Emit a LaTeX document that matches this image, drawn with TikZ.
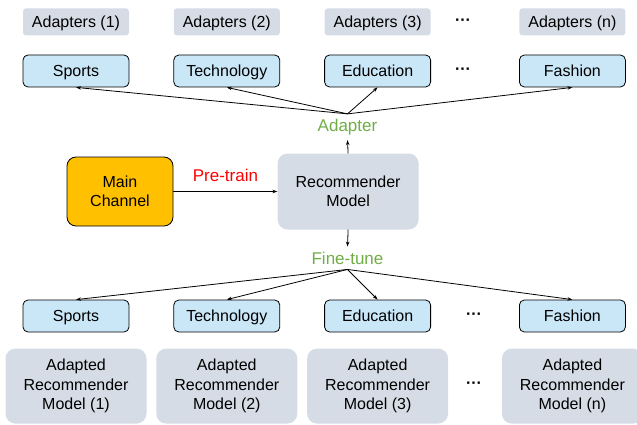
\documentclass[tikz,border=0pt]{standalone}
\usepackage{fontspec}
\setmainfont{Liberation Sans}
\usetikzlibrary{arrows.meta,positioning}

\definecolor{chanorange}{HTML}{FFC000}
\definecolor{modelgray}{HTML}{D6DCE5}
\definecolor{topicblue}{HTML}{CAE7F8}
\definecolor{tunegreen}{HTML}{70AD47}

\tikzset{
  topic/.style={draw, line width=0.8pt, fill=topicblue, rounded corners=5pt, minimum width=106pt, minimum height=32pt, inner sep=0pt, text height=14.4pt, text depth=3pt, font=\fontsize{16}{19}\selectfont},
  adapterset/.style={fill=modelgray, rounded corners=3pt, minimum width=106pt, minimum height=27pt, inner sep=0pt, text height=14.4pt, text depth=3pt, font=\fontsize{16}{19}\selectfont},
  model/.style={fill=modelgray, rounded corners=10pt, align=center, minimum width=141pt, minimum height=76pt, inner sep=0pt, font=\fontsize{16}{19}\selectfont},
  channel/.style={draw, line width=0.8pt, fill=chanorange, rounded corners=9pt, align=center, minimum width=106pt, minimum height=69pt, inner sep=0pt, font=\fontsize{16}{19}\selectfont},
  adapted/.style={model, minimum height=75pt, font=\fontsize{16}{19.5}\selectfont},
  stagelabel/.style={inner sep=5pt, font=\fontsize{17}{20}\selectfont},
  more/.style={inner sep=0pt, font=\bfseries\fontsize{16}{19}\selectfont},
  link/.style={-{Stealth[length=5pt,width=3.5pt]}, line width=0.8pt}
}

\begin{document}
\begin{tikzpicture}[x=1pt, y=-1pt]
        \useasboundingbox (0,0) rectangle (637,425);

        \node[topic] (sportsA) at (76,71) {Sports};
        \node[topic] (techA) [right=44pt of sportsA] {Technology};
        \node[topic] (eduA) [right=44pt of techA] {Education};
        \node[topic] (fashA) [right=88pt of eduA] {Fashion};
        \node[more] (moretopA) at (463,71) {···};

        \node[adapterset] (setA) [above=19pt of sportsA] {Adapters (1)};
        \node[adapterset] (setB) [above=19pt of techA] {Adapters (2)};
        \node[adapterset] (setC) [above=19pt of eduA] {Adapters (3)};
        \node[adapterset] (setN) [above=19pt of fashA] {Adapters (n)};
        \node[more] (moreset) at (463,22) {···};

        \node[channel] (main) at (120,191.5) {Main\\Channel};
        \node[model] (rec) [right=104pt of main] {Recommender\\Model};
        \draw[link] (main) -- node[above=6pt, text=red, font=\fontsize{17}{20}\selectfont] {Pre-train} (rec);

        \node[stagelabel, text=tunegreen] (adapter) at (347.5,127) {Adapter};
        \draw[link] (rec.north) -- (adapter.south);
        \foreach \t in {sportsA,techA,eduA,fashA}
          \draw[link] (adapter.north) -- (\t.south);

        \node[stagelabel, text=tunegreen] (finetune) at (347.5,258) {Fine-tune};
        \draw[link] (rec.south) -- (finetune.north);

        \node[topic] (sportsB) at (76,316) {Sports};
        \node[topic] (techB) [right=44pt of sportsB] {Technology};
        \node[topic] (eduB) [right=44pt of techB] {Education};
        \node[topic] (fashB) [right=88pt of eduB] {Fashion};
        \node[more] (moretopB) at (474,316) {···};
        \foreach \t in {sportsB,techB,eduB,fashB}
          \draw[link] (finetune.south) -- (\t.north);

        \node[adapted] (modelA) [below=16pt of sportsB] {Adapted\\Recommender\\Model (1)};
        \node[adapted] (modelB) [below=16pt of techB] {Adapted\\Recommender\\Model (2)};
        \node[adapted] (modelC) [below=16pt of eduB] {Adapted\\Recommender\\Model (3)};
        \node[adapted] (modelN) [below=16pt of fashB] {Adapted\\Recommender\\Model (n)};
        \node[more] (moremodel) at (474,385.5) {···};
\end{tikzpicture}
\end{document}
